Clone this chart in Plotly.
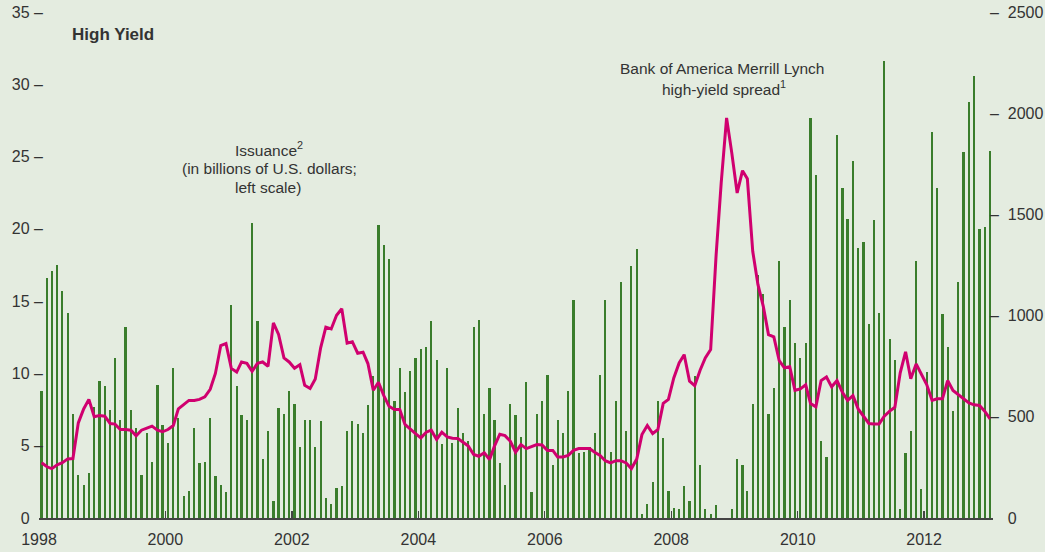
import pandas as pd
import plotly.graph_objects as go

# ---------------- data ----------------
# Monthly observations, Jan 1998 .. Jan 2013
months = pd.date_range("1998-01-01", "2013-01-01", freq="MS")

# High-yield issuance, billions of U.S. dollars (left scale)
issuance = [
    8.8, 16.6, 17.1, 17.5, 15.7, 14.2, 7.2, 3.0, 2.3, 3.1, 7.7, 9.5,        # 1998
    9.1, 7.5, 11.1, 6.8, 13.2, 7.5, 6.2, 3.0, 5.9, 3.9, 9.2, 6.4,          # 1999
    5.2, 10.4, 6.9, 1.5, 1.9, 6.2, 3.8, 3.9, 6.9, 2.9, 2.3, 1.8,           # 2000
    14.7, 9.1, 7.1, 6.8, 20.4, 13.6, 4.1, 6.0, 1.2, 7.6, 7.2, 8.8,         # 2001
    7.9, 4.9, 6.8, 6.8, 4.9, 6.7, 1.35, 1.0, 2.1, 2.2, 6.0, 6.7,           # 2002
    6.5, 5.9, 7.8, 9.8, 20.3, 18.9, 17.9, 8.1, 10.4, 8.7, 10.2, 11.1,      # 2003
    11.7, 11.8, 13.6, 10.9, 5.1, 10.4, 5.2, 7.6, 5.9, 5.3, 13.2, 13.7,     # 2004
    7.2, 9.0, 6.8, 3.8, 2.3, 7.9, 7.1, 5.6, 9.4, 1.8, 7.2, 8.1,            # 2005
    9.9, 3.7, 6.8, 5.9, 8.8, 15.1, 4.5, 4.6, 4.9, 5.9, 9.9, 15.1,          # 2006
    4.6, 8.1, 16.3, 6.0, 17.4, 18.6, 0.3, 1.0, 2.5, 8.1, 5.5, 1.9,         # 2007
    0.7, 0.6, 2.2, 1.2, 9.8, 3.7, 0.6, 0.3, 0.9, 0.0, 0.0, 0.6,            # 2008
    4.1, 3.7, 1.9, 7.9, 16.8, 15.5, 7.2, 9.0, 17.8, 13.2, 15.1, 12.1,      # 2009
    11.1, 12.1, 27.7, 23.7, 5.3, 4.2, 9.2, 26.5, 22.8, 20.7, 24.7, 18.7,   # 2010
    19.1, 13.4, 20.6, 14.2, 31.6, 12.4, 10.9, 0.6, 4.5, 6.0, 17.8, 2.0,    # 2011
    10.1, 26.7, 22.8, 14.1, 11.8, 7.4, 16.3, 25.3, 28.8, 30.6, 20.0, 20.1, # 2012
    25.4,                                                                  # 2013
]

# Bank of America Merrill Lynch high-yield spread, basis points (right scale)
hy_spread = [
    273, 253, 244, 263, 273, 292, 294, 470, 539, 586, 500, 506,            # 1998
    503, 467, 464, 437, 437, 434, 406, 434, 444, 454, 434, 426,            # 1999
    437, 457, 539, 559, 581, 581, 586, 599, 636, 714, 852, 862,            # 2000
    739, 721, 771, 764, 725, 764, 771, 750, 964, 907, 791, 771,            # 2001
    740, 757, 656, 640, 687, 841, 943, 934, 1002, 1034, 864, 871,          # 2002
    814, 819, 763, 631, 671, 605, 552, 536, 536, 462, 437, 417,            # 2003
    396, 424, 434, 388, 424, 401, 394, 393, 374, 355, 314, 305,            # 2004
    322, 289, 355, 414, 407, 379, 325, 363, 343, 351, 363, 361,            # 2005
    334, 334, 302, 302, 309, 334, 343, 343, 343, 325, 309, 283,            # 2006
    272, 283, 283, 272, 244, 291, 412, 457, 417, 437, 566, 586,            # 2007
    692, 766, 807, 676, 654, 730, 791, 832, 1293, 1657, 1977, 1804,        # 2008
    1606, 1716, 1676, 1318, 1154, 1046, 906, 895, 777, 742, 747, 631,      # 2009
    638, 658, 566, 549, 679, 697, 648, 679, 621, 581, 605, 539,            # 2010
    503, 467, 465, 465, 503, 528, 547, 717, 821, 688, 761, 709,            # 2011
    659, 581, 589, 589, 679, 630, 610, 589, 569, 559, 556, 528,            # 2012
    490,                                                                   # 2013
]

year_ticks = ["1998", "2000", "2002", "2004", "2006", "2008", "2010", "2012"]
left_ticks = [0, 5, 10, 15, 20, 25, 30, 35]
right_ticks = [0, 500, 1000, 1500, 2000, 2500]

# ---------------- styling ----------------
BG = "#E4ECE0"
BAR = "#3A7D2C"
LINE = "#D0006F"
TXT = "#333333"
FONT = "Liberation Sans, Arial, sans-serif"

x_mid = months + pd.Timedelta(days=15)
bar_w = 0.42 * 30.44 * 86400000  # ms

fig = go.Figure()
fig.add_trace(go.Bar(
    x=x_mid, y=issuance, width=bar_w,
    marker=dict(color=BAR, line=dict(width=0)),
    yaxis="y", showlegend=False, hoverinfo="skip",
))
fig.add_trace(go.Scatter(
    x=x_mid, y=hy_spread, mode="lines",
    line=dict(color=LINE, width=3),
    yaxis="y2", showlegend=False, hoverinfo="skip",
))

NB = "\u00a0"
left_text = [f"{v} –" if v else "0" + NB * 3 for v in left_ticks]
right_text = [f"–{NB}{NB}{v}" if v else NB * 4 + "0" for v in right_ticks]

fig.update_layout(
    width=1045, height=552,
    paper_bgcolor=BG, plot_bgcolor=BG,
    margin=dict(l=39, r=52, t=12, b=34, autoexpand=False),
    font=dict(family=FONT, size=16, color=TXT),
    bargap=0,
    hovermode=False,
    xaxis=dict(
        type="date",
        range=["1998-01-01", "2013-02-02"],
        tickvals=[f"{y}-01-01" for y in year_ticks],
        ticktext=year_ticks,
        ticks="inside", ticklen=7, tickwidth=1.2, tickcolor="#444444",
        showline=True, linecolor="#444444", linewidth=1.5,
        showgrid=False, zeroline=False,
        tickfont=dict(family=FONT, size=16, color=TXT),
        ticklabelstandoff=6,
    ),
    yaxis=dict(
        range=[0, 35], tickvals=left_ticks, ticktext=left_text,
        ticks="", showline=False, showgrid=False, zeroline=False,
        tickfont=dict(family=FONT, size=16, color=TXT),
        ticklabelstandoff=-5,
    ),
    yaxis2=dict(
        range=[0, 2500], tickvals=right_ticks, ticktext=right_text,
        overlaying="y", side="right",
        ticks="", showline=False, showgrid=False, zeroline=False,
        tickfont=dict(family=FONT, size=16, color=TXT),
        ticklabelstandoff=-4,
    ),
)

def px_x(px):
    return (px - 39) / 954

def px_y(py):
    return (518 - py) / 506

ann = [
    ("<b>High Yield</b>", 69.5, 34.5, "left", 17),
    ("Issuance<sup>2</sup>", 269.0, 149.0, "center", 15.5),
    ("(in billions of U.S. dollars;", 269.0, 168.3, "center", 15.5),
    ("left scale)", 267.5, 187.3, "center", 15.5),
    ("Bank of America Merrill Lynch", 721.5, 68.2, "center", 15.5),
    ("high-yield spread<sup>1</sup>", 724.3, 87.8, "center", 15.5),
]
for text, x, y, xa, fs in ann:
    fig.add_annotation(
        text=text, xref="paper", yref="paper",
        x=px_x(x), y=px_y(y), xanchor=xa, yanchor="middle",
        showarrow=False, font=dict(family=FONT, size=fs, color=TXT),
    )

fig.write_html(
    "out.html",
    config={"displayModeBar": False, "staticPlot": True},
    post_script="document.body.style.margin='0';document.body.style.overflow='hidden';",
)
